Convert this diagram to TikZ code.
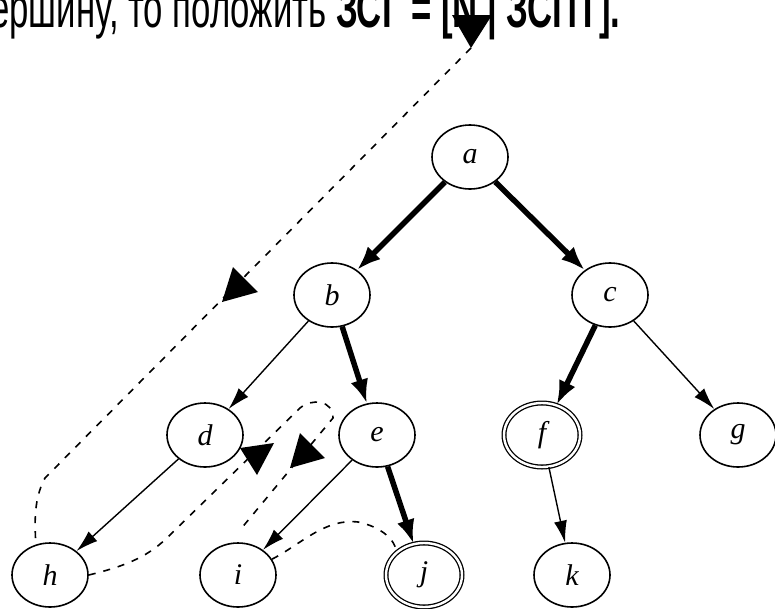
\documentclass[tikz,border=0pt]{standalone}
\usepackage{fontspec}
\setmainfont{Liberation Serif}
\newfontfamily\headfont[FakeStretch=0.62]{Liberation Sans}
\usetikzlibrary{arrows.meta,shapes.geometric}

\begin{document}
\begin{tikzpicture}[x=1pt,y=-1pt,
  vertex/.style={draw, ellipse, line width=1.6pt, minimum width=76pt, minimum height=64pt, inner sep=0pt, font=\fontsize{30}{30}\selectfont\itshape},
  goal/.style={vertex, double, double distance=2.4pt, line width=1.3pt},
  thinedge/.style={line width=1.4pt, -{Latex[length=22pt,width=13pt]}},
  thickedge/.style={line width=5.5pt, -{Latex[length=24pt,width=18pt]}},
  walk/.style={line width=1.6pt, dash pattern=on 7pt off 8pt},
  marker/.style={fill=black}
]
\useasboundingbox (0,0) rectangle (775,608);
\clip (0,0) rectangle (775,608);

\node[anchor=base west, inner sep=0pt, font=\headfont\fontsize{56}{56}\selectfont] (head) at (-10,27) {ершину, то положить \textbf{ЗСГ = [N | ЗСПТ].}};

% search tree
\node[vertex] (a) at (470,157) {a};
\node[vertex] (b) at (332,295) {b};
\node[vertex] (c) at (610,295) {c};
\node[vertex] (d) at (205,435) {d};
\node[vertex] (e) at (377,435) {e};
\node[goal] (f) at (542,435) {f};
\node[vertex] (g) at (738,435) {g};
\node[vertex] (h) at (50,575) {h};
\node[vertex] (i) at (238,575) {i};
\node[goal] (j) at (424,575) {j};
\node[vertex] (k) at (572,575) {k};

\draw[thickedge] (a) -- (b);
\draw[thickedge] (a) -- (c);
\draw[thinedge] (b) -- (d);
\draw[thickedge] (b) -- (e);
\draw[thickedge] (c) -- (f);
\draw[thinedge] (c) -- (g);
\draw[thinedge] (d) -- (h);
\draw[thinedge] (e) -- (i);
\draw[thickedge] (e) -- (j);
\draw[thinedge] (f) -- (k);

% depth-first walk
\coordinate (entry) at (471,48);
\draw[walk] (entry) -- (45,478) .. controls (33,500) and (35,525) .. (h.115);
\draw[walk] (h.east) .. controls (130,565) and (150,555) .. (170,535) -- (300,408) .. controls (312,398) and (333,400) .. (333,418) -- (240,530);
\draw[walk] (i.25) .. controls (300,545) and (325,518) .. (358,522) .. controls (382,527) and (395,540) .. (j.north west);

\fill[marker] (452,15) -- (492,15) -- (471,48) -- cycle;
\fill[marker] (233,267) -- (258,292) -- (222,302) -- cycle;
\fill[marker] (240,448) -- (274,443) -- (257,475) -- cycle;
\fill[marker] (300,433) -- (325,458) -- (290,468) -- cycle;
\end{tikzpicture}
\end{document}
